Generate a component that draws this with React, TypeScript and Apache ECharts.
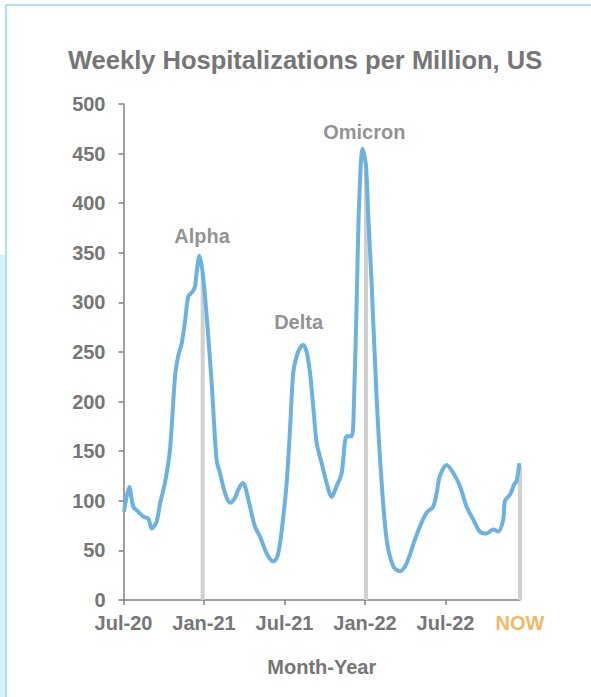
import React, { useEffect, useRef } from "react";
import * as echarts from "echarts";

// x = months since Jul 2020
const months = [
  0.04, 0.43, 0.73, 1.1, 1.48, 1.85, 2.1, 2.47, 2.72, 3.09, 3.46, 3.84, 4.08, 4.34, 4.58, 4.83, 5.16, 5.33,
  5.45, 5.65, 5.9, 6.2, 6.57, 6.94, 7.19, 7.56, 7.93, 8.31, 8.55, 8.88, 9.05, 9.43, 9.8, 10.17, 10.54, 10.79,
  11.12, 11.42, 11.66, 11.91, 12.16, 12.41, 12.65, 12.91, 13.15, 13.4, 13.65, 13.9, 14.14, 14.4, 14.77, 15.14,
  15.51, 15.89, 16.26, 16.63, 17.0, 17.18, 17.38, 17.57, 17.82, 18.07, 18.24, 18.49, 18.87, 19.24, 19.61, 20.1,
  20.6, 21.1, 21.72, 22.09, 22.59, 23.08, 23.34, 23.58, 24.08, 24.58, 25.07, 25.57, 26.07, 26.56, 27.06, 27.56,
  27.93, 28.3, 28.43, 28.8, 29.1, 29.3, 29.5,
];
const hospitalizations = [
  89, 114, 94, 89, 84, 82, 72, 79, 97, 118, 151, 225, 246, 259, 280, 306, 311, 316,
  330, 347, 330, 286, 219, 141, 128, 108, 98, 103, 111, 118, 115, 94, 74, 64, 51, 44,
  39, 42, 57, 84, 118, 172, 229, 246, 254, 257, 250, 229, 195, 158, 138, 118,
  104, 115, 128, 165, 165, 202, 303, 404, 455, 438, 387, 320, 202, 118, 61, 34,
  29, 37, 61, 74, 88, 94, 108, 125, 136, 128, 115, 94, 81, 69, 67, 71,
  69, 81, 100, 106, 116, 120, 138,
];

const markerMonths = [5.9, 18.07, 29.55];
const markerValues = [330, 438, 135];

const annotationNames = ["Alpha", "Delta", "Omicron"];
const annotationMonths = [5.85, 13.05, 17.95];
const annotationValues = [367, 280, 472];

const tickMonths = [0, 6, 12, 18, 24, 29.55];
const tickLabels = ["Jul-20", "Jan-21", "Jul-21", "Jan-22", "Jul-22", "NOW"];

const FONT = "'Liberation Sans', Arial, sans-serif";
const GRAY = "#767676";

export default function App() {
  const ref = useRef<HTMLDivElement>(null);
  useEffect(() => {
    if (!ref.current) return;
    const chart = echarts.init(ref.current, null, { renderer: "svg" });
    chart.setOption({
      animation: false,
      backgroundColor: "#ffffff",
      textStyle: { fontFamily: FONT },
      title: {
        text: "Weekly Hospitalizations per Million, US",
        left: 63,
        top: 42,
        textStyle: { fontFamily: FONT, fontSize: 25.5, fontWeight: "bold", color: GRAY },
      },
      graphic: [
        { type: "rect", shape: { x: 0, y: 255, width: 6, height: 442 }, style: { fill: "#d6f1f8" }, silent: true },
        { type: "line", shape: { x1: 6, y1: 5, x2: 6, y2: 697 }, style: { stroke: "#8fd9ef", lineWidth: 1.5 }, silent: true },
        { type: "line", shape: { x1: 6, y1: 5, x2: 591, y2: 5 }, style: { stroke: "#8fd9ef", lineWidth: 1.5 }, silent: true },
      ],
      grid: { left: 123.5, right: 71, top: 104, bottom: 97 },
      xAxis: {
        type: "value",
        min: 0,
        max: 29.55,
        interval: 6,
        name: "Month-Year",
        nameLocation: "middle",
        nameGap: 57,
        nameTextStyle: { fontFamily: FONT, fontSize: 20, fontWeight: "bold", color: GRAY },
        axisLine: { show: true, lineStyle: { color: "#808080", width: 1.5 } },
        axisTick: { show: true, length: 5, lineStyle: { color: "#808080", width: 1.5 }, customValues: tickMonths.slice(0, 5) },
        splitLine: { show: false },
        axisLabel: {
          customValues: tickMonths,
          margin: 13,
          fontFamily: FONT,
          fontSize: 20,
          fontWeight: "bold",
          color: GRAY,
          formatter: (v: number) => {
            let idx = 0;
            let best = Infinity;
            tickMonths.forEach((t, i) => {
              if (Math.abs(t - v) < best) {
                best = Math.abs(t - v);
                idx = i;
              }
            });
            const lab = tickLabels[idx];
            return lab === "NOW" ? "{now|NOW}" : lab;
          },
          rich: { now: { color: "#f2b865", fontFamily: FONT, fontSize: 20, fontWeight: "bold" } },
        },
      },
      yAxis: {
        type: "value",
        min: 0,
        max: 500,
        interval: 50,
        axisLine: { show: true, lineStyle: { color: "#808080", width: 1.5 } },
        axisTick: { show: true, length: 5, lineStyle: { color: "#808080", width: 1.5 } },
        splitLine: { show: false },
        axisLabel: { margin: 18, fontFamily: FONT, fontSize: 20, fontWeight: "bold", color: GRAY },
      },
      series: [
        {
          type: "bar",
          data: markerMonths.map((m, i) => [m, markerValues[i]]),
          barWidth: 4,
          itemStyle: { color: "#d0d0d0" },
          z: 1,
          silent: true,
        },
        {
          type: "line",
          data: months.map((m, i) => [m, hospitalizations[i]]),
          showSymbol: false,
          symbol: "none",
          smooth: 0.3,
          lineStyle: { color: "#6cb2df", width: 4 },
          z: 3,
          silent: true,
        },
        {
          type: "scatter",
          data: annotationMonths.map((m, i) => ({ value: [m, annotationValues[i]], name: annotationNames[i] })),
          symbolSize: 0,
          itemStyle: { color: "transparent" },
          label: {
            show: true,
            position: "inside",
            formatter: (p: any) => p.name,
            fontFamily: FONT,
            fontSize: 20,
            fontWeight: "bold",
            color: GRAY,
          },
          z: 4,
          silent: true,
        },
      ],
    });
    return () => chart.dispose();
  }, []);
  return <div ref={ref} style={{ position: "fixed", left: 0, top: 0, width: 591, height: 697 }} />;
}
